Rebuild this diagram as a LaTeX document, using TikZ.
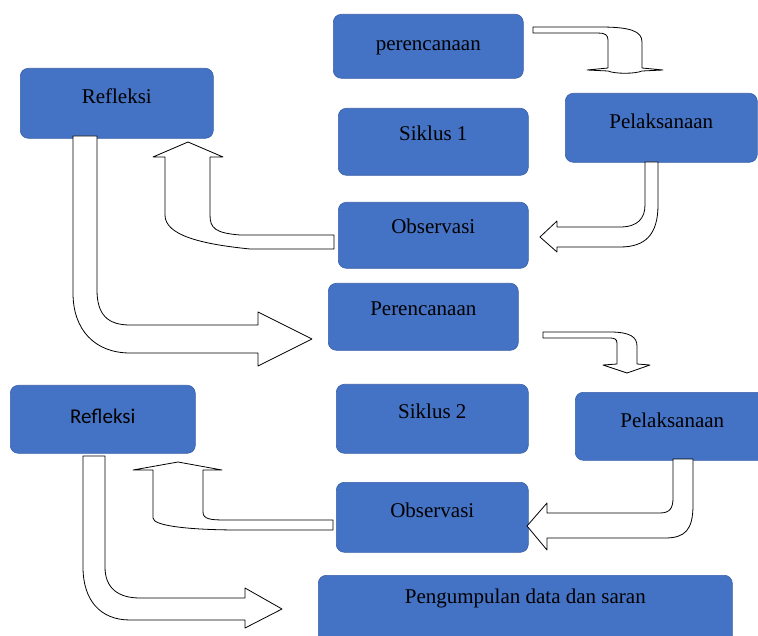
\documentclass[tikz,border=0pt]{standalone}
\usepackage{fontspec}
\setmainfont{Liberation Serif}
\newfontfamily\carlito{Carlito}
\usepackage{xcolor}
\usetikzlibrary{positioning}
\definecolor{boxblue}{RGB}{68,114,196}
\definecolor{boxedge}{RGB}{56,96,170}

\tikzset{
  stage/.style={fill=boxblue, draw=boxedge, line width=0.6pt, rounded corners=8pt, inner sep=0pt, anchor=north west, font=\fontsize{21}{24}\selectfont},
  blockarrow/.style={draw=black, fill=white, line width=0.8pt, line join=round}
}

\begin{document}
\begin{tikzpicture}[x=1pt, y=-1pt]
 \useasboundingbox (0,0) rectangle (758,636);
 \clip (0,0) rectangle (758,636);

 %siklus 1
 \node[stage, minimum width=190pt, text height=36pt, text depth=28pt] (per1) at (333,14) {perencanaan};
 \node[stage, minimum width=193pt, text height=35pt, text depth=35pt] (ref1) at (20,68) {Refleksi};
 \node[stage, minimum width=192pt, text height=35pt, text depth=34pt] (pel1) at (565,93) {Pelaksanaan};
 \node[stage, minimum width=190pt, text height=32pt, text depth=35pt] (sik1) at (338,108) {Siklus 1};
 \node[stage, minimum width=190pt, text height=31pt, text depth=35pt] (obs1) at (338,202) {Observasi};

 %siklus 2
 \node[stage, minimum width=190pt, text height=32pt, text depth=35pt] (per2) at (328,283) {Perencanaan};
 \node[stage, minimum width=185pt, text height=38pt, text depth=30pt, font=\carlito\fontsize{21}{24}\selectfont] (ref2) at (10,385) {Refleksi};
 \node[stage, minimum width=192pt, text height=34pt, text depth=35pt] (sik2) at (336,384) {Siklus 2};
 \node[stage, minimum width=194pt, text height=35pt, text depth=33pt] (pel2) at (575,392) {Pelaksanaan};
 \node[stage, minimum width=192pt, text height=35pt, text depth=35pt] (obs2) at (336,482) {Observasi};
 \node[stage, minimum width=414pt, text height=28pt, text depth=42pt] (pen) at (318,575) {Pengumpulan data dan saran};

 %arrows siklus 1
 \draw[blockarrow] (533,27) -- (600,27) .. controls (630,27) and (642,31) .. (642,42) -- (642,68)
   -- (663,70) -- (642,71) .. controls (635,74) and (615,74) .. (608,71) -- (587,70) -- (608,68)
   -- (608,40) .. controls (608,35) and (605,33) .. (598,33) -- (533,33) -- cycle;
 \draw[blockarrow] (645,162) -- (658,162) -- (658,205) .. controls (658,235) and (645,247) .. (620,247)
   -- (557,247) -- (557,252) -- (540,237) -- (557,221) -- (557,227) -- (620,227)
   .. controls (638,227) and (645,218) .. (645,205) -- cycle;
 \draw[blockarrow] (334,235) -- (240,235) .. controls (215,233) and (210,228) .. (210,215) -- (210,157)
   -- (223,157) -- (188,142) -- (153,157) -- (165,157) -- (165,215)
   .. controls (165,235) and (200,244) .. (250,249) -- (334,249) -- cycle;
 \draw[blockarrow] (73,136) -- (97,136) -- (97,290) .. controls (97,315) and (108,325) .. (130,325)
   -- (258,325) -- (258,312) -- (312,339) -- (258,366) -- (258,353) -- (130,353)
   .. controls (95,353) and (73,330) .. (73,293) -- cycle;

 %arrows siklus 2
 \draw[blockarrow] (543,332) -- (610,332) .. controls (630,332) and (637,337) .. (637,346) -- (637,364)
   -- (650,365) -- (627,373) -- (603,365) -- (617,364)
   -- (617,343) .. controls (617,339) and (614,338) .. (610,338) -- (543,338) -- cycle;
 \draw[blockarrow] (673,459) -- (693,459) -- (693,505) .. controls (693,530) and (685,538) .. (665,538)
   -- (547,538) -- (547,550) -- (527,526) -- (547,503) -- (547,513) -- (660,513)
   .. controls (670,513) and (673,508) .. (673,498) -- cycle;
 \draw[blockarrow] (333,520) -- (225,520) .. controls (210,520) and (203,519) .. (203,512) -- (203,470)
   -- (222,470) -- (178,462) -- (133,470) -- (153,470) -- (153,518)
   .. controls (153,526) and (190,530) .. (240,530) -- (333,530) -- cycle;
 \draw[blockarrow] (83,456) -- (105,456) -- (105,567) .. controls (105,588) and (118,598) .. (140,598)
   -- (245,598) -- (245,588) -- (282,609) -- (245,628) -- (245,620) -- (130,620)
   .. controls (100,620) and (83,600) .. (83,567) -- cycle;
\end{tikzpicture}
\end{document}
